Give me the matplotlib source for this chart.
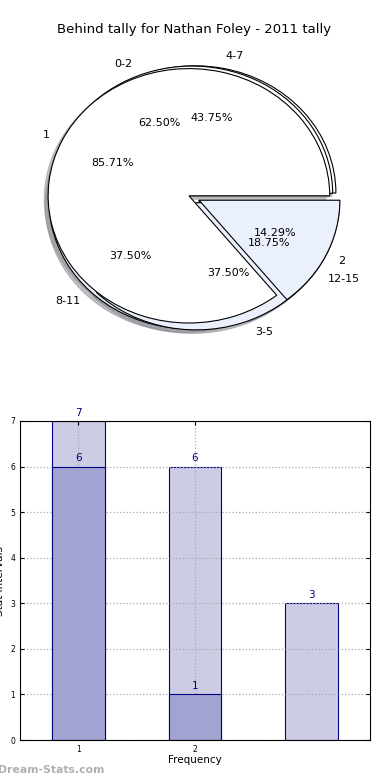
import numpy as np
import matplotlib
matplotlib.use('Agg')
import matplotlib.pyplot as plt

# pie data (three overlapping pies)
pie_a_labels = ['1', '2']
pie_a_vals = [6, 1]
pie_b_labels = ['0-2', '3-5']
pie_b_vals = [5, 3]
pie_c_labels = ['4-7', '8-11', '12-15']
pie_c_vals = [7, 6, 3]

# bar data
bar_x = [1, 2, 3]
light_vals = [7, 6, 3]
dark_x = [1, 2]
dark_vals = [6, 1]
xtick_labels = ['1', '2']

pie_colors = ['white', '#ebf0fd']
light_col = '#ccccE5'
dark_col = '#a3a3d1'
navy = '#000080'

fig = plt.figure(figsize=(3.9, 7.8), dpi=100)

# ---- pie ----
ax1 = fig.add_axes([18/390, 1 - 357/780, 352/390, 318/780])
for labels, vals in [(pie_c_labels, pie_c_vals), (pie_b_labels, pie_b_vals), (pie_a_labels, pie_a_vals)]:
    cols = [pie_colors[i % 2] for i in range(len(vals))]
    wedges, texts, autotexts = ax1.pie(vals, labels=labels, colors=cols, autopct='%1.2f%%',
                                       explode=[0.04] * len(vals),
                                       shadow={'ox': -0.02, 'oy': -0.02, 'shade': 0.45},
                                       startangle=0,
                                       wedgeprops=dict(edgecolor='black', linewidth=0.8))
    for t in texts + autotexts:
        t.set_fontsize(8)
ax1.set_aspect('auto')
ax1.set_xlim(-1.25, 1.25)
ax1.set_ylim(-1.25, 1.25)
ax1.set_title('Behind tally for Nathan Foley - 2011 tally', fontsize=9.5, pad=4)

# ---- bars ----
ax2 = fig.add_axes([20/390, 40/780, 350/390, 319/780])
ax2.bar(bar_x, light_vals, width=0.45, color=light_col, edgecolor=navy, linewidth=0.8, zorder=2)
ax2.bar(dark_x, dark_vals, width=0.45, color=dark_col, edgecolor=navy, linewidth=0.8, zorder=3)
for x, v in zip(bar_x, light_vals):
    ax2.text(x, v + 0.07, str(v), ha='center', va='bottom', color=navy, fontsize=7.5, zorder=6)
for x, v in zip(dark_x, dark_vals):
    ax2.text(x, v + 0.07, str(v), ha='center', va='bottom', color=navy, fontsize=7.5, zorder=6)
ax2.set_xlim(0.5, 3.5)
ax2.set_ylim(0, 7)
ax2.set_xticks(dark_x)
ax2.set_xticklabels(xtick_labels)
ax2.set_yticks(range(8))
ax2.tick_params(labelsize=5.5, direction='in', length=3, top=True, right=True)
ax2.grid(True, linestyle=':', color='#aaaaaa', linewidth=0.9, zorder=4)
ax2.set_axisbelow(False)
for sp in ax2.spines.values():
    sp.set_zorder(5)
ax2.set_xlabel('Frequency', fontsize=7.5, labelpad=1)
ax2.set_ylabel('Stat intervals', fontsize=7.5, labelpad=4)

fig.text(-0.005, 0.0125, 'Dream-Stats.com', fontsize=7.8, color='#b0b0b0', fontweight='bold',
         ha='left', va='center')

fig.savefig('out.png', dpi=100)
